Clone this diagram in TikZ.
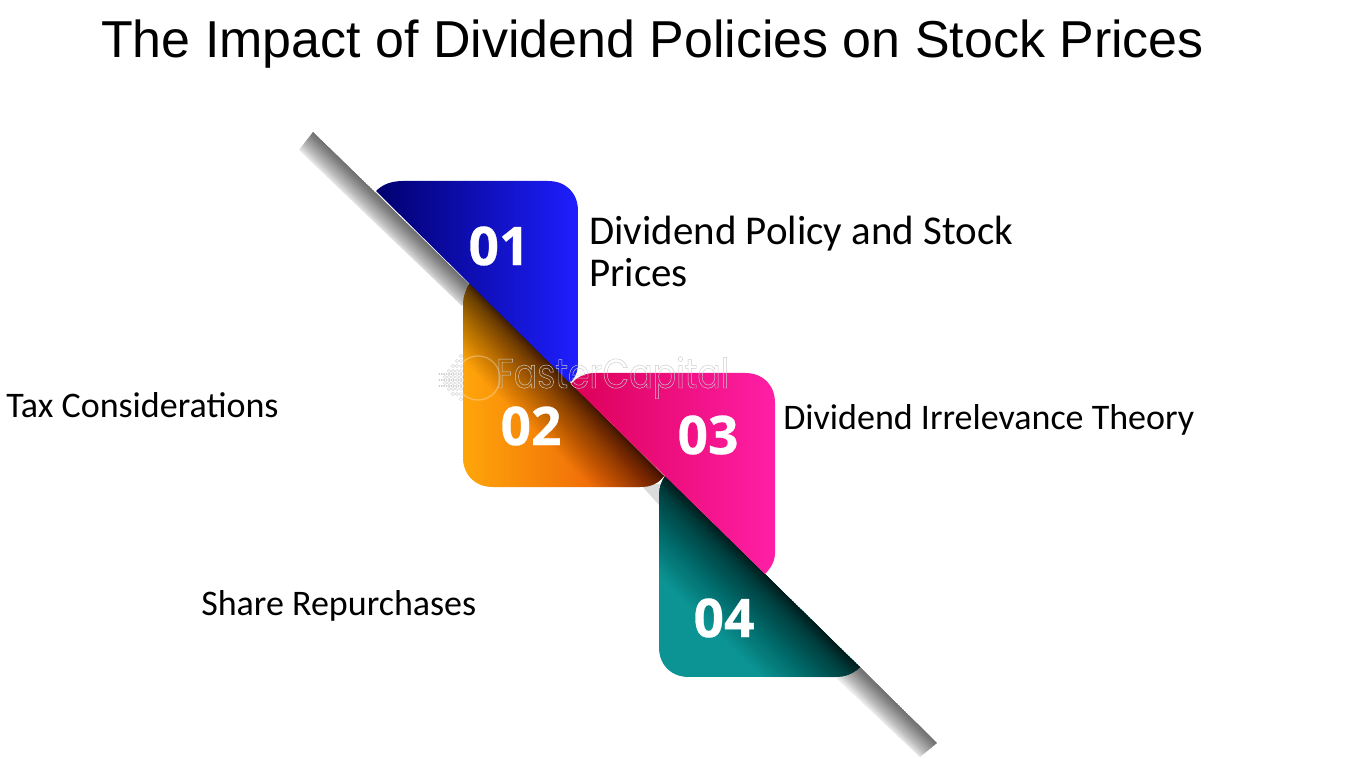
\documentclass[tikz,border=0pt]{standalone}
\usepackage{fontspec}
\setmainfont{Carlito}
\newfontfamily\titlefont{Liberation Sans}
\newfontfamily\numfont{Open Sans}[BoldFont={Open Sans Bold},BoldFeatures={FakeBold=0.5}]
\newfontfamily\wmfont{Poppins}[FakeStretch=0.84]
\definecolor{bluedark}{HTML}{00006E}
\definecolor{bluemid}{HTML}{0505B4}
\definecolor{blueright}{HTML}{1E1EFF}
\definecolor{pinkleft}{HTML}{DC0058}
\definecolor{pinkright}{HTML}{FF1FA6}
\definecolor{orangeleft}{HTML}{FFA50A}
\definecolor{orangeright}{HTML}{E84E08}
\definecolor{tealbase}{HTML}{0C9494}
\definecolor{wmgrey}{HTML}{C9C9C9}
\newcommand{\diagbands}[7]{% cx cy dmax steps opacity power colour
  \foreach \i in {1,...,#4}{
    \pgfmathsetmacro{\dd}{#3*(\i/#4)^#6*0.7071}
    \fill[#7,opacity=#5] (#1-300,#2-294) -- (#1+300,#2+294) -- (#1+300-\dd,#2+294+\dd) -- (#1-300-\dd,#2-294+\dd) -- cycle;
  }}
\tikzset{
  titletext/.style={font=\titlefont\fontsize{38.95}{44}\selectfont,anchor=base west,inner sep=0pt,text=black},
  labeltext/.style={font=\fontsize{30.7}{34}\selectfont,anchor=base west,inner sep=0pt,text=black},
  smalllabel/.style={font=\fontsize{27}{32}\selectfont,anchor=base west,inner sep=0pt,text=black},
  numtext/.style={font=\numfont\bfseries\fontsize{40}{44}\selectfont,text=white,inner sep=0pt,anchor=center},
  wmtext/.style={font=\wmfont\fontsize{31}{36}\selectfont,anchor=base west,inner sep=0pt},
}
\begin{document}
\begin{tikzpicture}[x=0.75pt,y=-0.75pt]
\useasboundingbox (0,0) rectangle (1350,759);
\fill[white] (0,0) rectangle (1350,759);
% bar, upper end
\begin{scope}
\clip (313,132) -- (472,286) -- (462,306) -- (299,150) -- cycle;
\fill[black!7] (290,120) rectangle (480,320);
\diagbands{376}{193}{23}{40}{0.014}{1}{black}
\end{scope}
% bar, lower end
\begin{scope}
\clip (858,665) -- (937,743) -- (920,757) -- (835,677) -- cycle;
\fill[black!7] (830,660) rectangle (940,760);
\diagbands{860}{667}{23}{40}{0.014}{1}{black}
\end{scope}
% bar, piece between boxes 02 and 04
\begin{scope}
\clip (640,484) -- (668,484) -- (659,505) -- cycle;
\fill[black!14] (640,484) rectangle (670,506);
\end{scope}
% orange
\begin{scope}
\clip (470,283) .. controls (465,291) and (463,298) .. (463,305) -- (463,457) .. controls (463,475) and (475,487) .. (493,487) -- (640,487) .. controls (650,487) and (658,484) .. (664,476) -- cycle;
\shade[left color=orangeleft,right color=orangeright] (463,283) rectangle (664,487);
\diagbands{570}{381}{60}{70}{0.022}{3}{black}
\end{scope}
% teal
\begin{scope}
\clip (665,476) .. controls (661,482) and (659,488) .. (659,495) -- (659,647) .. controls (659,665) and (671,677) .. (689,677) -- (835,677) .. controls (845,677) and (853,674) .. (860,667) -- cycle;
\fill[tealbase] (659,476) rectangle (860,677);
\diagbands{765}{574}{75}{70}{0.025}{3}{black}
\end{scope}
% blue
\begin{scope}
\clip (376,191) .. controls (383,184) and (392,181) .. (403,181) -- (548,181) .. controls (566,181) and (578,193) .. (578,211) -- (578,363) .. controls (578,372) and (575,378) .. (570,383) -- cycle;
\shade[left color=bluedark,middle color=bluemid,right color=blueright] (376,181) rectangle (578,383);
\end{scope}
% pink
\begin{scope}
\clip (571,384) .. controls (577,377) and (585,373) .. (595,373) -- (745,373) .. controls (763,373) and (775,385) .. (775,403) -- (775,553) .. controls (775,561) and (771,568) .. (765,574) -- cycle;
\shade[left color=pinkleft,right color=pinkright] (571,373) rectangle (775,574);
\end{scope}
% watermark icon
\foreach \r/\w in {374/11,380/11,386/11}{
  \foreach \k in {1,...,\w}{
    \fill[wmgrey] (437+2.4*\k,\r) circle[radius=1];
  }}
\foreach \r/\w in {356/1,361/2,366/3,371/4,377/5,383/5,389/4,394/3,399/1}{
  \foreach \k in {1,...,\w}{
    \draw[wmgrey,line width=0.25pt] (463-4*\k+2,\r) circle[radius=1.6];
  }}
\draw[white,opacity=0.3,line width=1pt] (478,378) circle[radius=22];
% watermark text
\node[wmtext] (wm) at (496,388) {\special{pdf:code q 1 Tr 0.35 w 0.8 0.8 0.8 RG}FasterCapital\special{pdf:code Q}};
% numbers
\node[numtext] (n1) at (499,246) {01};
\node[numtext] (n2) at (531,426) {02};
\node[numtext] (n3) at (708,435) {03};
\node[numtext] (n4) at (724,618) {04};
% labels
\node[titletext] (title) at (101,58) {The Impact of Dividend Policies on Stock Prices};
\node[labeltext] (l1) at (589,244.5) {Dividend Policy and Stock};
\node[labeltext] (l1b) at (589,286.5) {Prices};
\node[smalllabel] (l2) at (6,417.5) {Tax Considerations};
\node[smalllabel] (l3) at (783,429.5) {Dividend Irrelevance Theory};
\node[smalllabel] (l4) at (201,615) {Share Repurchases};
\end{tikzpicture}
\end{document}
